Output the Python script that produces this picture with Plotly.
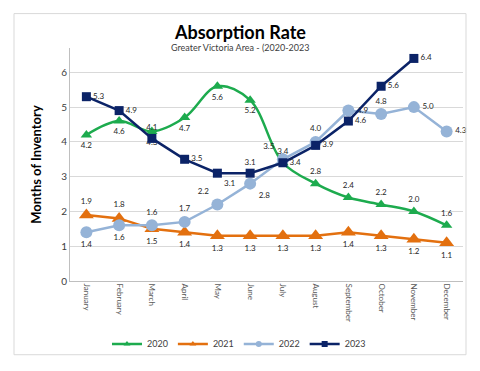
import plotly.graph_objects as go

months = ["January", "February", "March", "April", "May", "June", "July",
          "August", "September", "October", "November", "December"]
v2020 = [4.2, 4.6, 4.3, 4.7, 5.6, 5.2, 3.4, 2.8, 2.4, 2.2, 2.0, 1.6]
v2021 = [1.9, 1.8, 1.5, 1.4, 1.3, 1.3, 1.3, 1.3, 1.4, 1.3, 1.2, 1.1]
v2022 = [1.4, 1.6, 1.6, 1.7, 2.2, 2.8, 3.5, 4.0, 4.9, 4.8, 5.0, 4.3]
v2023 = [5.3, 4.9, 4.1, 3.5, 3.1, 3.1, 3.4, 3.9, 4.6, 5.6, 6.4, None]

pos2020 = ["bottom center"] * 6 + ["top center"] * 6
pos2021 = ["top center"] * 2 + ["bottom center"] * 10
pos2022 = ["bottom center", "bottom center", "top center", "top center", "top left",
           "bottom right", "top left", "top center", "middle right", "top center",
           "middle right", "middle right"]
pos2023 = ["middle right", "middle right", "top center", "middle right", "bottom right",
           "top center", "middle right", "middle right", "middle right", "middle right",
           "middle right", "middle right"]

series = [
    ("2020", v2020, pos2020, "#1DAB4E", "triangle-up", 10, "spline"),
    ("2021", v2021, pos2021, "#E3700F", "triangle-up", 13, "linear"),
    ("2022", v2022, pos2022, "#95B3D7", "circle", 12, "linear"),
    ("2023", v2023, pos2023, "#0B2367", "square", 9, "linear"),
]

def labels(vals):
    return ["" if v is None else f"{v:.1f}" for v in vals]

lab_font = dict(family="Lato", size=8, color="#262626")

fig = go.Figure()
for name, vals, pos, color, sym, size, shape in series:
    fig.add_trace(go.Scatter(x=months, y=vals, name=name, mode="lines+markers+text",
                             line=dict(color=color, width=2.5, shape=shape),
                             marker=dict(symbol=sym, size=size, color=color),
                             text=labels(vals), textposition=pos, textfont=lab_font,
                             cliponaxis=False, showlegend=False))
# legend entries with small markers, as in the reference
for name, vals, pos, color, sym, size, shape in series:
    fig.add_trace(go.Scatter(x=[None], y=[None], name=name, mode="lines+markers",
                             line=dict(color=color, width=2.5),
                             marker=dict(symbol=sym, size=6, color=color),
                             showlegend=True))

fig.update_layout(
    width=480, height=371,
    margin=dict(l=70, r=17, t=48, b=86),
    paper_bgcolor="white", plot_bgcolor="white",
    font=dict(family="Lato", color="#404040"),
    showlegend=True,
    legend=dict(orientation="h", x=0.43, xanchor="center", y=-0.27, yanchor="middle",
                font=dict(size=9, color="#404040"), itemwidth=30,
                bgcolor="rgba(0,0,0,0)"),
    xaxis=dict(showgrid=False, tickangle=90, tickfont=dict(size=8, color="#595959"),
               showline=True, linecolor="#BFBFBF", ticks="", range=[-0.5, 11.5]),
    yaxis=dict(range=[0, 6.7], dtick=1, showgrid=True, gridcolor="#D9D9D9", gridwidth=1,
               zeroline=False, showline=True, linecolor="#BFBFBF",
               tickfont=dict(size=10, color="#404040"),
               title=dict(text="<b>Months of Inventory</b>", font=dict(size=13, color="#000000"),
                          standoff=16)),
    annotations=[
        dict(text="<b>Absorption Rate</b>", xref="paper", yref="paper",
             x=(240 - 70) / 393, y=(285 - 32) / 237, xanchor="center", yanchor="middle",
             showarrow=False, font=dict(size=18, color="#000000")),
        dict(text="Greater Victoria Area - (2020-2023", xref="paper", yref="paper",
             x=(240 - 70) / 393, y=(285 - 47) / 237, xanchor="center", yanchor="middle",
             showarrow=False, font=dict(size=9, color="#404040")),
    ],
    shapes=[dict(type="rect", xref="paper", yref="paper",
                 x0=(14 - 70) / 393, x1=(466 - 70) / 393,
                 y0=(285 - 360) / 237, y1=(285 - 13) / 237,
                 line=dict(color="#D9D9D9", width=1), layer="above")],
)

fig.write_html("out.html", config={"displayModeBar": False},
               post_script="document.body.style.margin='0';")
